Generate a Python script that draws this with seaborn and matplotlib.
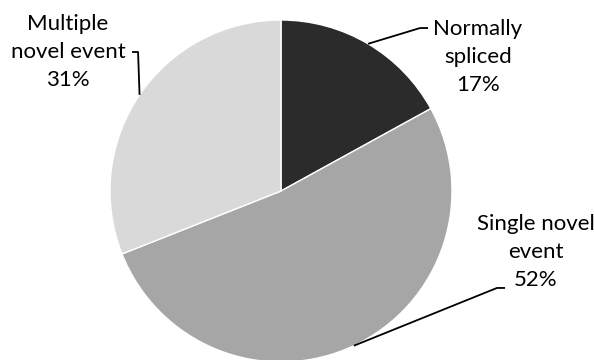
import numpy as np
import matplotlib
matplotlib.use("Agg")
import matplotlib.pyplot as plt
import seaborn as sns

labels = ["Normally\nspliced", "Single novel\nevent", "Multiple\nnovel event"]
values = [17, 52, 31]
colors = ["#2b2b2b", "#a6a6a6", "#d9d9d9"]

sns.set_style("white")
plt.rcParams["font.family"] = ["Lato", "DejaVu Sans"]

fig = plt.figure(figsize=(5.94, 3.6), dpi=100)
ax = fig.add_axes([0, 0, 1, 1])

wedges, _ = ax.pie(values, colors=colors, startangle=90, counterclock=False,
                   radius=1, center=(0, 0), frame=True)

# pie centre at pixel (281, 191), radius 171 px
ax.set_xlim(-281 / 171, (594 - 281) / 171)
ax.set_ylim((191 - 360) / 171, 191 / 171)
ax.axis("off")

# label block centres and leader elbows (data coords)
text_pos = [(1.152, 0.784), (1.49, -0.357), (-1.246, 0.813)]
elbows = [((0.813, 0.953), (0.860, 0.953)),
          ((1.263, -0.567), (1.310, -0.567)),
          ((-0.836, 0.813), (-0.871, 0.813))]

for w, lab, v, tp, (e1, e2) in zip(wedges, labels, values, text_pos, elbows):
    mid = np.deg2rad((w.theta1 + w.theta2) / 2)
    start = (np.cos(mid), np.sin(mid))
    ax.plot([start[0], e1[0], e2[0]], [start[1], e1[1], e2[1]],
            color="black", lw=1.3, solid_capstyle="butt")
    ax.text(tp[0], tp[1], f"{lab}\n{v}%", ha="center", va="center",
            multialignment="center", fontsize=16, linespacing=1.5, color="black")

fig.savefig("out.png", dpi=100)
